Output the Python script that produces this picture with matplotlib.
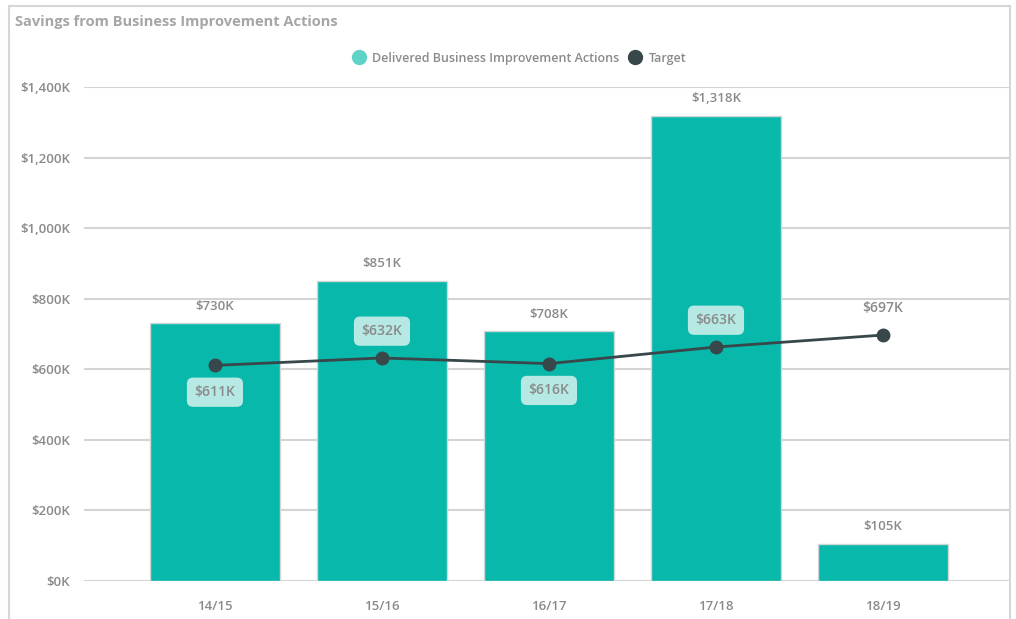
import numpy as np
import matplotlib.pyplot as plt
from matplotlib.lines import Line2D

years = ['14/15', '15/16', '16/17', '17/18', '18/19']
delivered = [730, 851, 708, 1318, 105]   # $K
target = [611, 632, 616, 663, 697]       # $K
target_label_pos = ['below', 'above', 'below', 'above', 'above']
yticks = [0, 200, 400, 600, 800, 1000, 1200, 1400]

bar_color = '#08b8aa'
line_color = '#37474a'
text_color = '#8a8a8a'
plt.rcParams['font.family'] = ['Open Sans', 'DejaVu Sans']

fig = plt.figure(figsize=(10.16, 6.19), dpi=100)
# outer frame of the visual
fig.patches.append(plt.Rectangle((0.009, -0.05), 0.985, 1.04, transform=fig.transFigure,
                                 fill=False, edgecolor='#d6d6d6', linewidth=1.5))
ax = fig.add_axes([0.0827, 0.0614, 0.9113, 0.7981])

x = np.arange(len(years))
ax.bar(x, delivered, width=0.78, color=bar_color, edgecolor='#cfd8d6', linewidth=1, zorder=3)
ax.plot(x, target, color=line_color, linewidth=2, marker='o', markersize=9, zorder=5)

for xi, v in zip(x, delivered):
    ax.text(xi, v + 30, f'${v:,}K', ha='center', va='bottom', fontsize=9.5,
            color=text_color, fontweight='semibold', zorder=6)

for xi, v, pos in zip(x, target, target_label_pos):
    dy = -76 if pos == 'below' else 76
    inside = (v + dy) < delivered[xi]
    bbox = dict(boxstyle='round,pad=0.55,rounding_size=0.45', fc='#b6e9e3', ec='none') if inside else None
    ax.text(xi, v + dy, f'${v}K', ha='center', va='center', fontsize=10,
            color=text_color, fontweight='semibold', bbox=bbox, zorder=6)

ax.set_xlim(-0.784, 4.76)
ax.set_ylim(0, 1400)
ax.set_yticks(yticks)
ax.set_yticklabels([f'${t:,}K' for t in yticks])
ax.set_xticks(x)
ax.set_xticklabels(years)
ax.tick_params(axis='both', length=0, colors=text_color, labelsize=9.5)
ax.tick_params(axis='x', pad=14)
ax.tick_params(axis='y', pad=10)
for lab in ax.get_xticklabels() + ax.get_yticklabels():
    lab.set_fontweight('semibold')
ax.grid(axis='y', color='#d4d4d4', linewidth=1.5, zorder=0)
for s in ax.spines.values():
    s.set_visible(False)

fig.text(0.0148, 0.965, 'Savings from Business Improvement Actions', ha='left', va='center',
         fontsize=10.5, color='#a6a6a6', fontweight='bold')

handles = [Line2D([], [], marker='o', linestyle='none', markersize=10, color='#5fd3c7'),
           Line2D([], [], marker='o', linestyle='none', markersize=10, color=line_color)]
fig.legend(handles, ['Delivered Business Improvement Actions', 'Target'], loc='center',
           bbox_to_anchor=(0.508, 0.906), ncol=2, frameon=False, handletextpad=0.05,
           columnspacing=0.3, labelcolor=text_color, prop={'size': 9, 'weight': 'semibold'})

fig.savefig('out.png', dpi=100)
